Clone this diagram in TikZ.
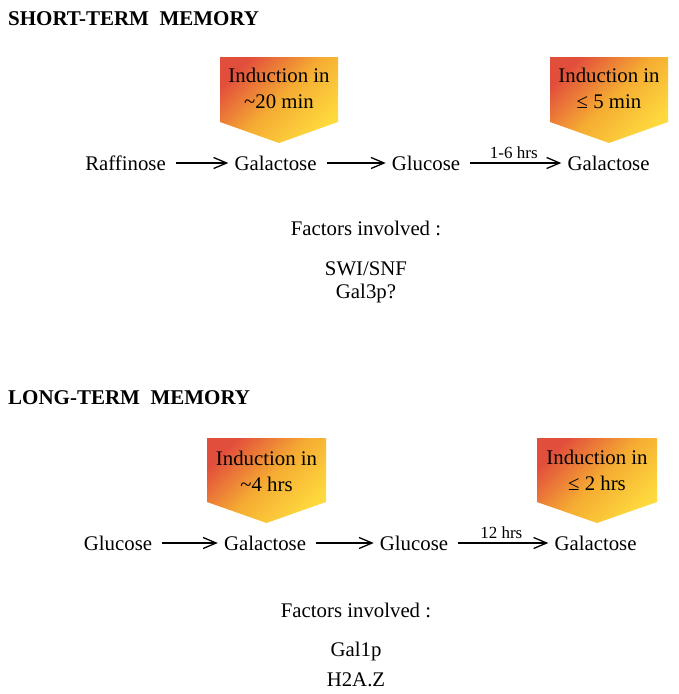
\documentclass[tikz,border=0pt]{standalone}
\usepackage{fontspec}
\setmainfont{Liberation Serif}
\newfontfamily\docfont{Liberation Serif}
\usetikzlibrary{arrows.meta}
\definecolor{indred}{RGB}{226,78,60}
\definecolor{indorange}{RGB}{245,172,50}
\definecolor{indyellow}{RGB}{254,218,62}
\begin{document}
\begin{tikzpicture}[x=1pt, y=-1pt,
	heading/.style	= {anchor=base west, inner sep=0pt, font=\docfont\fontsize{21}{25}\selectfont\bfseries},
	sugar/.style	= {anchor=base, inner xsep=6pt, inner ysep=0pt, text height=14pt, text depth=0pt, font=\docfont\fontsize{20.8}{25}\selectfont},
	plain/.style	= {anchor=base, inner sep=0pt, font=\docfont\fontsize{20.8}{25}\selectfont},
	induct/.style	= {top color=indred, bottom color=indyellow, middle color=indorange, shading angle=45},
	induction/.style	= {align=center, inner sep=0pt, font=\docfont\fontsize{20.8}{26}\selectfont},
	flow/.style	= {-{Straight Barb[length=13pt, width=11pt]}, line width=1.3pt, shorten <=4pt},
	hours/.style	= {above=4pt, inner sep=0pt, font=\docfont\fontsize{17}{20}\selectfont}]
	\useasboundingbox (0,0) rectangle (679,694);

	% short-term memory
	\node (stm) at (8, 25)	[heading]	{SHORT-TERM\ \ MEMORY};
	\shade[induct] (220,57) -- (338,57) -- (338,122) -- (279,143) -- (220,122) -- cycle;
	\shade[induct] (550,57) -- (668,57) -- (668,122) -- (609,143) -- (550,122) -- cycle;
	\node (ind1) at (279, 88)	[induction]	{Induction in\\\textasciitilde 20 min};
	\node (ind2) at (609, 88)	[induction]	{Induction in\\≤ 5 min};
	\node (raf) at (125.5, 170)	[sugar]	{Raffinose};
	\node (gal1) at (275.5, 170)	[sugar]	{Galactose};
	\node (glc1) at (426, 170)	[sugar]	{Glucose};
	\node (gal2) at (608.5, 170)	[sugar]	{Galactose};
	\draw[flow] (raf) -- (gal1);
	\draw[flow] (gal1) -- (glc1);
	\draw[flow] (glc1) -- node[hours] (t1) {1-6 hrs} (gal2);
	\node (fac1) at (366, 235)	[plain]	{Factors involved :};
	\node (swi) at (366, 275)	[plain]	{SWI/SNF};
	\node (gal3p) at (366, 298)	[plain]	{Gal3p?};

	% long-term memory
	\node (ltm) at (8, 404)	[heading]	{LONG-TERM\ \ MEMORY};
	\shade[induct] (207,438) -- (326,438) -- (326,502) -- (266.5,523) -- (207,502) -- cycle;
	\shade[induct] (537,438) -- (657,438) -- (657,502) -- (597,523) -- (537,502) -- cycle;
	\node (ind3) at (266.5, 471)	[induction]	{Induction in\\\textasciitilde 4 hrs};
	\node (ind4) at (597, 470)	[induction]	{Induction in\\≤ 2 hrs};
	\node (glc2) at (118, 550)	[sugar]	{Glucose};
	\node (gal3) at (265, 550)	[sugar]	{Galactose};
	\node (glc3) at (414, 550)	[sugar]	{Glucose};
	\node (gal4) at (595.5, 550)	[sugar]	{Galactose};
	\draw[flow] (glc2) -- (gal3);
	\draw[flow] (gal3) -- (glc3);
	\draw[flow] (glc3) -- node[hours] (t2) {12 hrs} (gal4);
	\node (fac2) at (356, 617)	[plain]	{Factors involved :};
	\node (gal1p) at (356, 656)	[plain]	{Gal1p};
	\node (h2az) at (356, 686)	[plain]	{H2A.Z};
\end{tikzpicture}
\end{document}
